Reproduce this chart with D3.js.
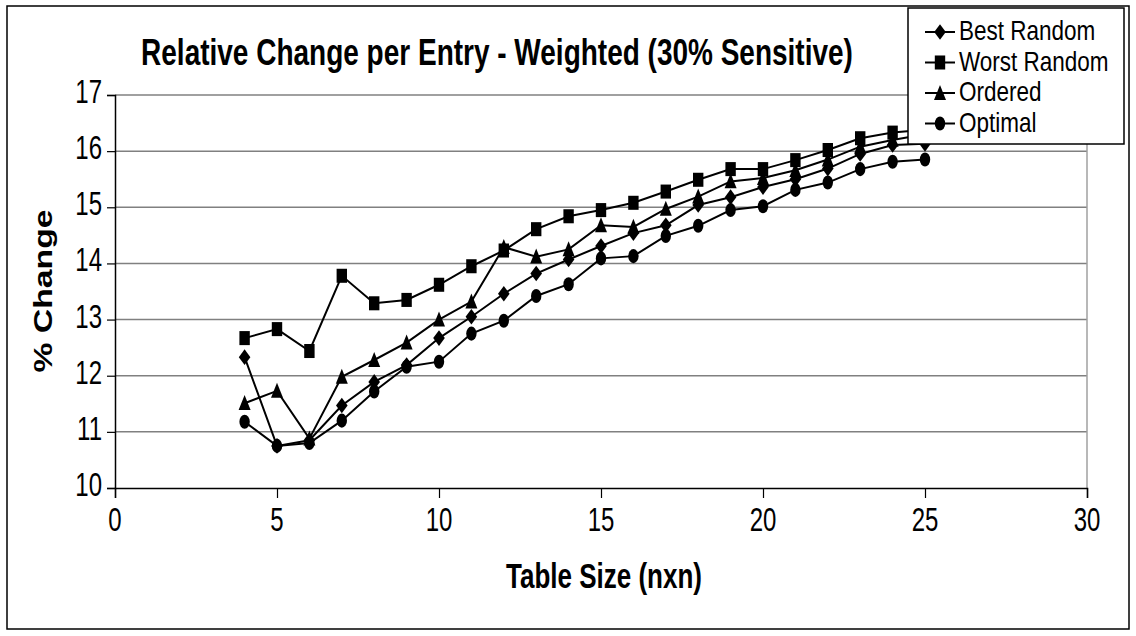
<!DOCTYPE html>
<html>
<head>
<meta charset="utf-8">
<script src="https://cdn.jsdelivr.net/npm/d3@7"></script>
<style>
  body { margin: 0; background: #fff; }
  text { font-family: "Liberation Sans", Arial, sans-serif; fill: #000; }
</style>
</head>
<body>
<div id="chart"></div>
<script>
const sizes = [4, 5, 6, 7, 8, 9, 10, 11, 12, 13, 14, 15, 16, 17, 18, 19, 20, 21, 22, 23, 24, 25]
const bestRandom = [12.33, 10.75, 10.85, 11.47, 11.89, 12.19, 12.67, 13.05, 13.46, 13.82, 14.07, 14.31, 14.54, 14.68, 15.04, 15.18, 15.36, 15.50, 15.69, 15.95, 16.11, 16.13]
const worstRandom = [12.67, 12.83, 12.44, 13.78, 13.29, 13.35, 13.62, 13.95, 14.23, 14.61, 14.84, 14.95, 15.08, 15.28, 15.49, 15.68, 15.68, 15.84, 16.02, 16.23, 16.33, 16.38]
const ordered = [11.51, 11.73, 10.88, 11.98, 12.28, 12.59, 13.00, 13.32, 14.29, 14.12, 14.25, 14.68, 14.65, 14.97, 15.19, 15.46, 15.52, 15.66, 15.85, 16.08, 16.20, 16.30]
const optimal = [11.18, 10.75, 10.80, 11.20, 11.72, 12.16, 12.25, 12.75, 12.98, 13.42, 13.63, 14.09, 14.13, 14.49, 14.67, 14.95, 15.02, 15.31, 15.44, 15.68, 15.81, 15.85]
const seriesNames = ["Best Random", "Worst Random", "Ordered", "Optimal"]
const xTicks = [0, 5, 10, 15, 20, 25, 30]
const yTicks = [10, 11, 12, 13, 14, 15, 16, 17]

const width = 1136, height = 636
const plot = { left: 115, right: 1087, top: 95, bottom: 488 }
const stretch = 1.35 // the original picture is stretched vertically

const svg = d3.select("#chart").append("svg")
  .attr("width", width).attr("height", height)

svg.append("rect").attr("width", width).attr("height", height).attr("fill", "#fff")
svg.append("rect")
  .attr("x", 7).attr("y", 6).attr("width", 1122).attr("height", 623)
  .attr("fill", "none").attr("stroke", "#000").attr("stroke-width", 1.5)

const x = d3.scaleLinear().domain([0, 30]).range([plot.left, plot.right])
const y = d3.scaleLinear().domain([10, 17]).range([plot.bottom, plot.top])

// gridlines
svg.append("g").selectAll("line").data(yTicks.slice(1)).enter().append("line")
  .attr("x1", plot.left).attr("x2", plot.right)
  .attr("y1", d => y(d)).attr("y2", d => y(d))
  .attr("stroke", "#808080").attr("stroke-width", 1.5)
svg.append("line")
  .attr("x1", plot.right).attr("x2", plot.right)
  .attr("y1", plot.top).attr("y2", plot.bottom)
  .attr("stroke", "#a0a0a0").attr("stroke-width", 1.5)

// axes
const xAxis = svg.append("g").attr("transform", `translate(0,${plot.bottom})`)
  .call(d3.axisBottom(x).tickValues(xTicks).tickSize(10).tickFormat(""))
const yAxis = svg.append("g").attr("transform", `translate(${plot.left},0)`)
  .call(d3.axisLeft(y).tickValues(yTicks).tickSize(8).tickFormat(""))
;[xAxis, yAxis].forEach(g => {
  g.select(".domain").attr("stroke", "#000").attr("stroke-width", 1.5)
  g.selectAll(".tick line").attr("stroke", "#000").attr("stroke-width", 1.2)
})

function stretchedText(px, py, str, size, anchor, weight) {
  return svg.append("text")
    .attr("transform", `translate(${px},${py}) scale(1,${stretch})`)
    .attr("text-anchor", anchor)
    .style("font-size", size + "px")
    .style("font-weight", weight || "normal")
    .text(str)
}

xTicks.forEach(t => stretchedText(x(t), 531, t, 24, "middle"))
yTicks.forEach(t => stretchedText(102, y(t) + 8, t, 24, "end"))

stretchedText(497, 65, "Relative Change per Entry - Weighted (30% Sensitive)", 28, "middle", "bold")
stretchedText(604, 588, "Table Size (nxn)", 26, "middle", "bold")
svg.append("text")
  .attr("transform", `translate(52,291) rotate(-90) scale(${stretch},1)`)
  .attr("text-anchor", "middle")
  .style("font-size", "25px").style("font-weight", "bold")
  .text("% Change")

// marker shapes, half width r
const shapes = {
  diamond: r => `M0,${-r}L${r},0L0,${r}L${-r},0Z`,
  square: r => `M${-r},${-r}H${r}V${r}H${-r}Z`,
  triangle: r => `M0,${-r}L${r},${r * 0.85}L${-r},${r * 0.85}Z`,
  circle: r => d3.symbol().type(d3.symbolCircle).size(Math.PI * r * r)()
}
const markerInfo = [
  { shape: "diamond", r: 5.8 },
  { shape: "square", r: 5.2 },
  { shape: "triangle", r: 6 },
  { shape: "circle", r: 5.2 }
]
const allSeries = [bestRandom, worstRandom, ordered, optimal]

const line = d3.line().x(d => x(d[0])).y(d => y(d[1]))

allSeries.forEach((vals, i) => {
  const pts = sizes.map((s, j) => [s, vals[j]])
  const g = svg.append("g")
  g.append("path").datum(pts).attr("d", line)
    .attr("fill", "none").attr("stroke", "#000").attr("stroke-width", 2)
  g.selectAll("path.m").data(pts).enter().append("path")
    .attr("class", "m")
    .attr("d", shapes[markerInfo[i].shape](markerInfo[i].r))
    .attr("transform", d => `translate(${x(d[0])},${y(d[1])}) scale(1,${stretch})`)
    .attr("fill", "#000")
})

// legend
const legend = svg.append("g")
legend.append("rect")
  .attr("x", 908).attr("y", 8).attr("width", 216).attr("height", 136)
  .attr("fill", "#fff").attr("stroke", "#000").attr("stroke-width", 1.5)
seriesNames.forEach((name, i) => {
  const cy = 32 + i * 30.5
  legend.append("line").attr("x1", 925).attr("x2", 955).attr("y1", cy).attr("y2", cy)
    .attr("stroke", "#000").attr("stroke-width", 2)
  legend.append("path")
    .attr("d", shapes[markerInfo[i].shape](markerInfo[i].r))
    .attr("transform", `translate(940,${cy}) scale(1,${stretch})`)
    .attr("fill", "#000")
  legend.append("text")
    .attr("transform", `translate(959,${cy + 8}) scale(1,1.25)`)
    .style("font-size", "22.5px")
    .text(name)
})
</script>
</body>
</html>
